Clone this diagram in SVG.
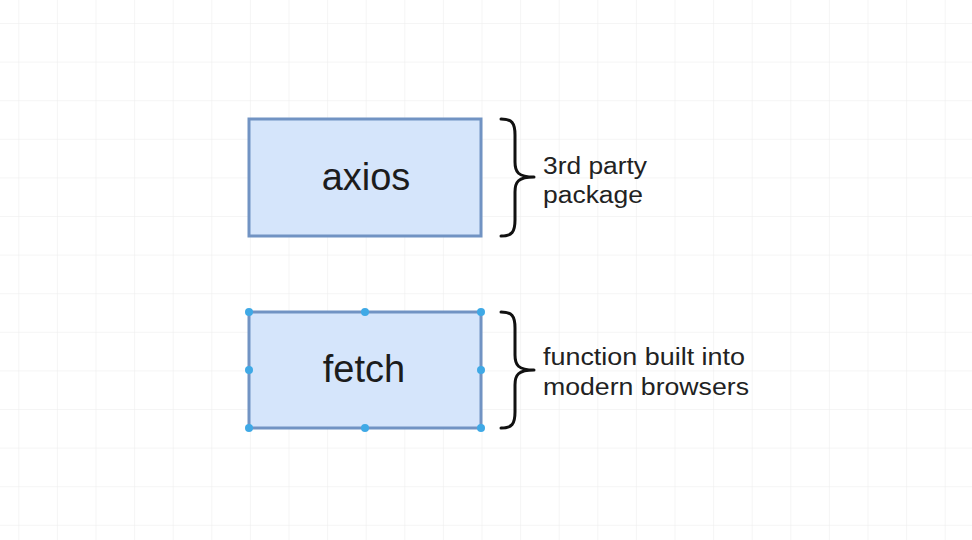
<svg xmlns="http://www.w3.org/2000/svg" width="972" height="540" viewBox="0 0 972 540">
<style>
.box{fill:#d5e5fb;stroke:#7193c3;stroke-width:3}
.big{font-family:"Liberation Sans",Arial,sans-serif;font-size:38px;fill:#1c1c1c;text-anchor:middle}
.lbl{font-family:"Liberation Sans",Arial,sans-serif;font-size:23px;fill:#222}
.brace{fill:none;stroke:#111;stroke-width:3;stroke-linecap:round;stroke-linejoin:round}
.h{fill:#3fa9e6}
</style>
<defs>
<pattern id="grid" x="18.3" y="23" width="38.6" height="38.6" patternUnits="userSpaceOnUse">
<path d="M0,0 V38.6 M0,0 H38.6" fill="none" stroke="#ececec" stroke-width="1"/>
</pattern>
</defs>
<rect width="972" height="540" fill="#ffffff"/>
<rect width="972" height="540" fill="url(#grid)"/>
<g id="axios">
<rect class="box" x="249" y="119" width="232" height="117"/>
<text class="big" x="366" y="190">axios</text>
</g>
<g id="fetch">
<rect class="box" x="249" y="312" width="232" height="116"/>
<text class="big" x="364" y="382">fetch</text>
<circle class="h" cx="249" cy="312" r="4"/>
<circle class="h" cx="365" cy="312" r="4"/>
<circle class="h" cx="481" cy="312" r="4"/>
<circle class="h" cx="249" cy="370" r="4"/>
<circle class="h" cx="481" cy="370" r="4"/>
<circle class="h" cx="249" cy="428" r="4"/>
<circle class="h" cx="365" cy="428" r="4"/>
<circle class="h" cx="481" cy="428" r="4"/>
</g>
<g id="brace-axios">
<path class="brace" d="M501,119 C512,119 515,123 515,135 L515,162 C515,172 518,177 534,177 C518,177 515,182 515,192 L515,220 C515,232 512,236 501,236"/>
<text class="lbl" x="543" y="174" textLength="104" lengthAdjust="spacingAndGlyphs">3rd party</text>
<text class="lbl" x="543" y="203" textLength="100" lengthAdjust="spacingAndGlyphs">package</text>
</g>
<g id="brace-fetch">
<path class="brace" d="M501,312 C512,312 515,316 515,328 L515,355 C515,365 518,370 534,370 C518,370 515,375 515,385 L515,412 C515,424 512,428 501,428"/>
<text class="lbl" x="543" y="365" textLength="202" lengthAdjust="spacingAndGlyphs">function built into</text>
<text class="lbl" x="543" y="395" textLength="206" lengthAdjust="spacingAndGlyphs">modern browsers</text>
</g>
</svg>
